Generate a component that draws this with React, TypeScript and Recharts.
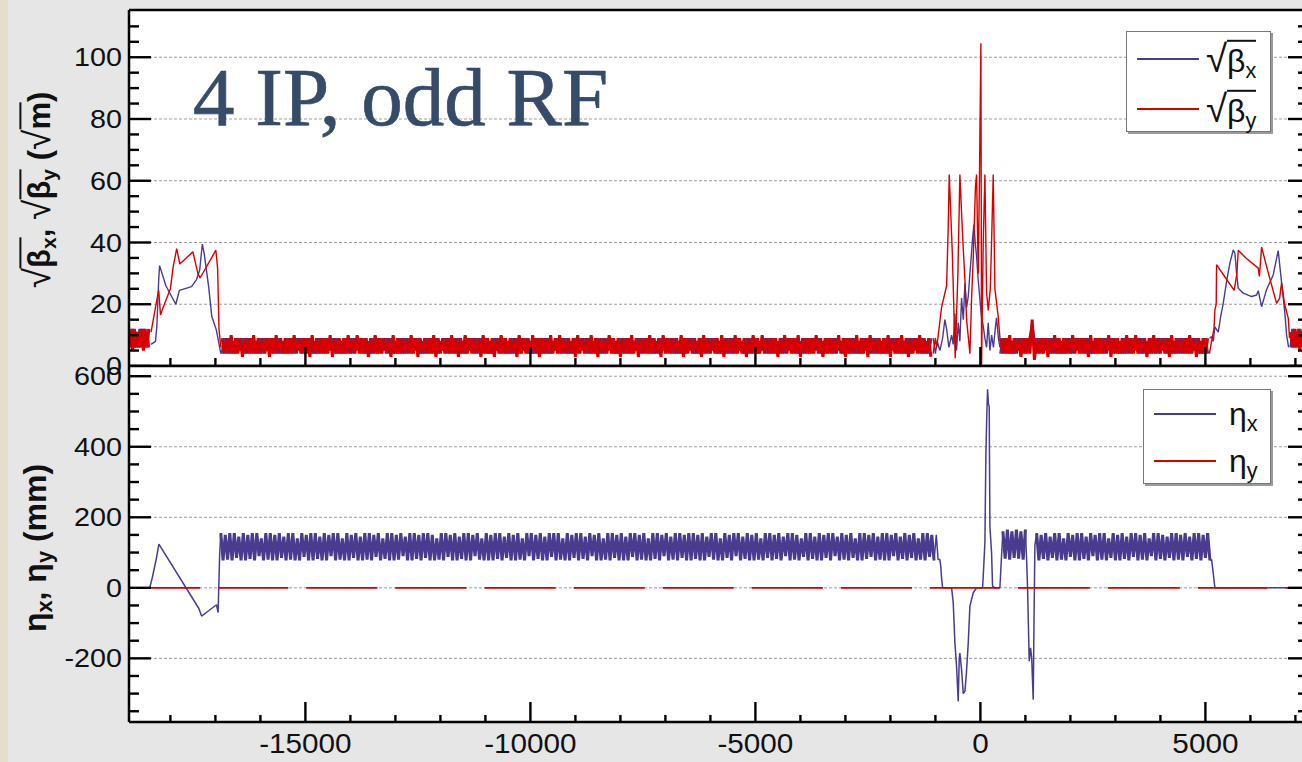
import React from "react";
import { LineChart, Line, XAxis, YAxis, ReferenceLine, CartesianGrid } from "recharts";

// ---- axes ----
const S_DOMAIN: [number, number] = [-18920, 7280];
const BETA_DOMAIN: [number, number] = [0, 115.3];
const ETA_DOMAIN: [number, number] = [-380.5, 629];

const sTicks = [
  -18000, -17000, -16000, -15000, -14000, -13000, -12000, -11000, -10000, -9000, -8000, -7000, -6000,
  -5000, -4000, -3000, -2000, -1000, 0, 1000, 2000, 3000, 4000, 5000, 6000, 7000,
];
const sLabels = [-15000, -10000, -5000, 0, 5000];
const betaTicks = [0, 5, 10, 15, 20, 25, 30, 35, 40, 45, 50, 55, 60, 65, 70, 75, 80, 85, 90, 95, 100, 105, 110];
const betaLabels = [0, 20, 40, 60, 80, 100];
const etaTicks = [-350, -300, -250, -200, -150, -100, -50, 0, 50, 100, 150, 200, 250, 300, 350, 400, 450, 500, 550, 600];
const etaLabels = [-200, 0, 200, 400, 600];

// ---- sqrt(beta_x) ----
const edgeLeftS = [-18920, -18880, -18840, -18800, -18760, -18720, -18680, -18640, -18600, -18560, -18520, -18480];
const bxEdgeLeft = [11, 6, 12, 6, 11, 6, 12, 6, 12, 6, 11, 6];
const byEdgeLeft = [6, 12, 5, 12, 6, 11, 6, 12, 5, 12, 6, 12];

const bxIrLeftS = [-18430, -18330, -18300, -18260, -18240, -18100, -17880, -17800, -17530, -17420, -17350, -17290, -17250, -17150, -17080, -16980, -16930, -16880];
const bxIrLeft = [7, 8, 13, 28, 32.5, 26, 20, 24.5, 25.7, 28, 31, 39.5, 36.5, 25.7, 16, 11.7, 8, 4];

const ARC_STEP = 50;
const bxArcLeftStart = -16850;
const bxArcLeft = [
  4, 9, 4, 9, 4, 8, 4, 9, 5, 9, 4, 9, 4, 9, 4, 8, 4, 9, 4, 9, 5, 9, 4, 9, 4, 9, 4, 8, 4, 9,
  4, 9, 4, 9, 5, 9, 4, 9, 4, 9, 4, 8, 4, 9, 4, 9, 4, 9, 5, 9, 4, 9, 4, 8, 4, 9, 4, 9, 4, 9,
  5, 9, 4, 9, 4, 8, 4, 9, 4, 9, 4, 9, 5, 9, 4, 9, 4, 8, 4, 9, 4, 9, 4, 9, 4, 9, 5, 9, 4, 8,
  4, 9, 4, 9, 4, 9, 4, 8, 5, 9, 4, 9, 4, 9, 4, 9, 4, 8, 4, 9, 5, 9, 4, 9, 4, 9, 4, 9, 4, 8,
  4, 9, 5, 9, 4, 9, 4, 8, 4, 9, 4, 9, 4, 9, 5, 9, 4, 8, 4, 9, 4, 9, 4, 9, 4, 9, 4, 8, 5, 9,
  4, 9, 4, 9, 4, 8, 4, 9, 4, 9, 5, 9, 4, 9, 4, 8, 4, 9, 4, 9, 4, 9, 5, 9, 4, 8, 4, 9, 4, 9,
  4, 9, 4, 8, 5, 9, 4, 9, 4, 9, 4, 9, 4, 8, 4, 9, 5, 9, 4, 9, 4, 9, 4, 8, 4, 9, 4, 9, 5, 9,
  4, 8, 4, 9, 4, 9, 4, 9, 5, 9, 4, 8, 4, 9, 4, 9, 4, 9, 4, 9, 5, 8, 4, 9, 4, 9, 4, 9, 4, 8,
  5, 9, 4, 9, 4, 9, 4, 8, 4, 9, 4, 9, 5, 9, 4, 9, 4, 8, 4, 9, 4, 9, 4, 9, 5, 9, 4, 8, 4, 9,
  4, 9, 4, 9, 5, 8, 4, 9, 4, 9, 4, 9, 4, 8, 4, 9, 5, 9, 4, 9, 4, 9, 4, 8, 4, 9, 4, 9, 5, 9,
  4, 9, 4, 8, 4, 9, 4, 9, 5, 9, 4, 9, 4, 8, 4, 9,
];

const bxIrCenterS = [-1050, -1000, -960, -900, -840, -790, -751, -700, -640, -604, -567, -530, -493, -456, -419, -380, -344, -307, -270, -233, -196, -170, -144, -115, -85, -50, -11, 25, 63, 100, 137, 174, 211, 250, 290, 330, 359, 400, 433];
const bxIrCenter = [9, 4, 8, 5, 9, 15, 12, 6, 10, 7, 17, 5, 14, 8, 22, 15, 26.8, 19, 22.5, 30, 37, 42, 45.7, 40, 35.6, 28, 21.6, 16, 13, 9, 6, 14, 5, 10, 6, 12, 15.6, 9, 6];

const arcRightStart = 450;
const bxArcRight = [
  4, 9, 4, 9, 4, 8, 4, 9, 5, 9, 4, 9, 4, 9, 13, 8, 4, 9, 4, 9, 5, 9, 4, 9, 4, 9, 4, 8, 4, 9,
  4, 9, 4, 9, 5, 9, 4, 9, 4, 9, 4, 8, 4, 9, 4, 9, 4, 9, 5, 9, 4, 9, 4, 8, 4, 9, 4, 9, 4, 9,
  5, 9, 4, 9, 4, 8, 4, 9, 4, 9, 4, 9, 5, 9, 4, 9, 4, 8, 4, 9, 4, 9, 4, 9, 4, 9, 5, 9, 4, 8,
  4, 9, 4,
];

const bxIrRightS = [5090, 5137, 5175, 5211, 5285, 5340, 5396, 5470, 5544, 5619, 5656, 5693, 5730, 5841, 6027, 6138, 6174, 6249, 6360, 6507, 6618, 6693, 6767, 6804, 6850];
const bxIrRight = [9, 9.5, 8, 12.7, 11, 16, 20.3, 27.3, 33.3, 37.6, 36.5, 30, 25.2, 23.6, 22.5, 23, 24.4, 19.2, 24.8, 29.5, 37.4, 27, 17, 10, 6];

const edgeRightS = [6900, 6940, 6980, 7020, 7060, 7100, 7140, 7180, 7220, 7260, 7300];
const bxEdgeRight = [6, 12, 6, 11, 6, 12, 7, 12, 6, 11, 6];
const byEdgeRight = [11, 6, 12, 6, 12, 5, 11, 6, 12, 6, 11];

// ---- sqrt(beta_y) ----
const byIrLeftS = [-18430, -18300, -18260, -18220, -18200, -18000, -17940, -17860, -17790, -17500, -17390, -17340, -16990, -16950, -16920, -16880];
const byIrLeft = [11, 21.5, 24.5, 16.5, 17.5, 25, 32, 38, 33, 37, 30, 28.5, 37.5, 31.5, 12, 6];

const byArcLeft = [
  9, 4, 9, 4, 10, 4, 9, 4, 9, 3, 9, 4, 9, 4, 10, 4, 9, 4, 9, 4, 9, 3, 9, 4, 10, 4, 9, 4, 9, 4,
  9, 4, 10, 4, 9, 4, 9, 4, 9, 3, 10, 4, 9, 4, 9, 4, 9, 4, 10, 3, 9, 4, 9, 4, 9, 4, 10, 4, 9, 4,
  10, 4, 9, 4, 9, 3, 9, 4, 10, 4, 9, 4, 9, 4, 9, 3, 10, 4, 9, 4, 9, 4, 9, 4, 10, 4, 9, 3, 9, 4,
  9, 4, 9, 4, 10, 3, 9, 4, 9, 4, 9, 4, 10, 4, 9, 3, 9, 4, 10, 4, 9, 4, 9, 4, 9, 3, 10, 4, 9, 4,
  9, 3, 9, 4, 10, 4, 9, 4, 9, 4, 9, 3, 10, 4, 9, 4, 9, 4, 10, 4, 9, 3, 9, 4, 9, 4, 10, 4, 9, 4,
  10, 4, 9, 4, 9, 4, 9, 3, 10, 4, 9, 4, 9, 4, 10, 4, 9, 3, 9, 4, 9, 4, 10, 4, 9, 4, 9, 3, 9, 4,
  9, 4, 10, 4, 9, 3, 9, 4, 9, 4, 10, 4, 9, 4, 9, 3, 10, 4, 9, 4, 9, 4, 9, 4, 10, 3, 9, 4, 9, 4,
  9, 4, 9, 3, 10, 4, 9, 4, 9, 4, 9, 4, 10, 3, 9, 4, 9, 4, 10, 4, 9, 4, 9, 3, 9, 4, 10, 4, 9, 4,
  10, 4, 9, 4, 9, 4, 9, 3, 9, 4, 10, 4, 9, 4, 9, 4, 10, 3, 9, 4, 9, 4, 9, 4, 10, 4, 9, 3, 9, 4,
  9, 4, 9, 4, 10, 4, 9, 3, 9, 4, 9, 4, 10, 4, 9, 4, 9, 3, 10, 4, 9, 4, 9, 4, 9, 4, 10, 3, 9, 4,
  9, 4, 10, 4, 9, 3, 9, 4, 9, 4, 10, 4, 9, 4, 9, 3,
];

const byIrCenterS = [-1050, -1000, -970, -863, -751, -715, -693, -660, -625, -600, -560, -500, -456, -420, -381, -344, -307, -233, -196, -159, -110, -85, -48, -20, 11, 26, 63, 100, 137, 174, 220, 248, 285, 322, 396, 440];
const byIrCenter = [4, 9, 6, 19, 26, 45, 62, 50, 37, 24, 2.5, 30, 62, 50, 38, 28, 15, 4, 22, 35, 58, 62, 30, 62, 104.5, 0.5, 40, 62, 24, 18, 25, 40, 62, 25, 16, 8];

const byArcRight = [
  9, 4, 9, 4, 10, 4, 9, 4, 9, 3, 9, 4, 9, 4, 15, 2, 9, 4, 9, 4, 9, 3, 9, 4, 10, 4, 9, 4, 9, 4,
  9, 4, 10, 4, 9, 4, 9, 4, 9, 3, 10, 4, 9, 4, 9, 4, 9, 4, 10, 3, 9, 4, 9, 4, 9, 4, 10, 4, 9, 4,
  10, 4, 9, 4, 9, 3, 9, 4, 10, 4, 9, 4, 9, 4, 9, 3, 10, 4, 9, 4, 9, 4, 9, 4, 10, 4, 9, 3, 9, 4,
  9, 4, 9,
];

const byIrRightS = [5090, 5137, 5190, 5211, 5240, 5248, 5450, 5640, 5700, 5730, 5900, 6174, 6200, 6249, 6400, 6582, 6650, 6693, 6760, 6841, 6870];
const byIrRight = [4, 8, 12, 18.2, 20, 32.8, 28.5, 24.5, 30, 37.5, 35, 31.7, 29, 38.5, 30, 20.3, 22, 27, 20, 15.5, 9];

// ---- eta_x (mm) ----
const exIrLeftS = [-18920, -18460, -18400, -18310, -18256, -17370, -17307, -17150, -16975, -16940, -16905, -16880];
const exIrLeft = [0, 0, 30, 84, 124, -58, -80, -65, -48, -70, 95, 155];

const exArcLeftStart = -16880;
const exArcLeft = [
  155, 78, 150, 80, 155, 78, 155, 85, 145, 78, 155, 78, 150, 82, 155, 78, 155, 90, 140, 78, 155, 80, 155, 78, 150, 78, 155, 85, 145, 78,
  155, 80, 155, 78, 140, 78, 155, 88, 150, 78, 155, 78, 155, 82, 145, 78, 155, 78, 150, 90, 155, 78, 155, 80, 140, 78, 155, 78, 150, 85,
  155, 78, 145, 78, 155, 80, 155, 78, 150, 88, 155, 78, 140, 82, 155, 78, 155, 78, 150, 80, 155, 90, 145, 78, 155, 78, 155, 82, 150, 78,
  155, 85, 155, 78, 150, 78, 140, 80, 155, 78, 155, 88, 150, 78, 155, 78, 145, 82, 155, 78, 155, 78, 150, 90, 155, 80, 140, 78, 155, 78,
  150, 78, 155, 82, 155, 78, 145, 85, 155, 78, 150, 78, 155, 80, 140, 78, 155, 90, 155, 78, 150, 82, 155, 78, 145, 78, 155, 88, 155, 78,
  155, 80, 140, 78, 155, 78, 150, 85, 155, 78, 155, 82, 145, 78, 155, 90, 150, 78, 155, 78, 140, 80, 155, 78, 155, 85, 150, 78, 155, 78,
  145, 78, 155, 88, 155, 78, 150, 80, 155, 78, 140, 78, 155, 82, 155, 78, 150, 90, 155, 78, 145, 80, 155, 78, 155, 85, 150, 78, 155, 78,
  155, 82, 150, 78, 155, 78, 145, 88, 155, 80, 155, 78, 140, 78, 155, 85, 150, 78, 155, 90, 155, 78, 145, 82, 155, 78, 150, 78, 155, 80,
  140, 78, 155, 85, 155, 78, 150, 82, 155, 78, 145, 90, 155, 78, 155, 80, 150, 78, 140, 88, 155, 78, 155, 82, 145, 78, 155, 78, 150, 85,
  155, 78, 155, 90, 145, 78, 155, 80, 150, 78, 155, 85, 140, 78, 155, 78, 155, 82, 150, 88, 155, 78, 145, 80, 155, 78, 155, 78, 150, 90,
  155, 78, 145, 82, 155, 78, 150, 85, 155, 78, 140, 80, 155, 78, 155, 88, 150, 78,
];

const exIrCenterS = [-1030, -980, -940, -900, -880, -863, -840, -640, -604, -567, -530, -493, -470, -456, -419, -380, -344, -310, -270, -233, -159, -85, 48, 63, 100, 122, 140, 159, 180, 196, 211, 248, 270, 320, 433, 470, 500];
const exIrCenter = [78, 150, 80, 80, 60, 28, 0, 0, -42, -156, -222, -322, -200, -185, -232, -300, -293, -240, -156, -52, -14, 0, 0, 33, 128, 378, 480, 563, 520, 515, 174, 100, 5, 0, 0, 90, 160];

const exBand2Start = 500;
const exBand2 = [160, 83, 165, 80, 160, 85, 165, 83, 160, 80, 165];

const exIrMidS = [1000, 1026, 1048, 1085, 1115, 1140, 1174, 1190, 1211, 1250];
const exIrMid = [165, 83, 0, -208, -170, -200, -317, -110, 120, 155];

const exBand3Start = 1250;
const exBand3 = [
  155, 78, 150, 82, 155, 78, 145, 85, 155, 78, 155, 80, 140, 78, 155, 88, 150, 78, 155, 78, 155, 82, 145, 78, 155, 90, 150, 78, 155, 80,
  155, 78, 140, 85, 155, 78, 150, 78, 155, 82, 145, 78, 155, 88, 155, 78, 150, 80, 155, 78, 140, 90, 155, 78, 155, 82, 150, 78, 145, 85,
  155, 78, 155, 80, 150, 78, 155, 88, 145, 78, 155, 82, 155, 78, 150, 85, 155, 78,
];

const exTailS = [5100, 5137, 5174, 5211, 7280];
const exTail = [78, 80, 42, 0, 0];

// ---- eta_y: zero, with the few short gaps seen on the plot ----
const eyGapStarts = [-17340, -15380, -13400, -11420, -9440, -7460, -5480, -3500, -1520, 433, 2430, 4430, 6380];
const EY_GAP = 400;

// ---- build series ----
type Pt = { s: number; v: number | null };
const pts = (s: number[], v: number[]): Pt[] => s.map((x, i) => ({ s: x, v: v[i] }));
const onGrid = (start: number, v: number[]): Pt[] => v.map((y, i) => ({ s: start + i * ARC_STEP, v: y }));
const cut = (s: number): Pt => ({ s, v: null });

// dense lattice cells (drawn thicker, they read as a solid band) and insertion regions
const bxBand = [
  ...pts(edgeLeftS, bxEdgeLeft), cut(-18470),
  ...onGrid(bxArcLeftStart, bxArcLeft), cut(-1090),
  ...onGrid(arcRightStart, bxArcRight), cut(5060),
  ...pts(edgeRightS, bxEdgeRight),
];
const bxIr = [
  ...pts(bxIrLeftS, bxIrLeft), cut(-16870),
  ...pts(bxIrCenterS, bxIrCenter), cut(440),
  ...pts(bxIrRightS, bxIrRight),
];
const byBand = [
  ...pts(edgeLeftS, byEdgeLeft), cut(-18470),
  ...onGrid(bxArcLeftStart, byArcLeft), cut(-1090),
  ...onGrid(arcRightStart, byArcRight), cut(5060),
  ...pts(edgeRightS, byEdgeRight),
];
const byIr = [
  ...pts(byIrLeftS, byIrLeft), cut(-16870),
  ...pts(byIrCenterS, byIrCenter), cut(445),
  ...pts(byIrRightS, byIrRight),
];
const exBand = [
  ...onGrid(exArcLeftStart, exArcLeft), cut(-1020),
  ...onGrid(exBand2Start, exBand2), cut(1010),
  ...onGrid(exBand3Start, exBand3),
];
const exIr = [
  ...pts(exIrLeftS, exIrLeft), cut(-16870),
  ...pts(exIrCenterS, exIrCenter), cut(505),
  ...pts(exIrMidS, exIrMid), cut(1255),
  ...pts(exTailS, exTail),
];
const eyData: Pt[] = [{ s: S_DOMAIN[0], v: 0 }];
eyGapStarts.forEach((g) => {
  eyData.push({ s: g, v: 0 }, cut(g + EY_GAP / 2), { s: g + EY_GAP, v: 0 });
});
eyData.push({ s: S_DOMAIN[1], v: 0 });

// ---- styling ----
const BLUE = "#4a3b8f";
const RED = "#d60000";
const GRID = "#9e9e9e";
const FONT = "'Liberation Sans', Arial, Helvetica, sans-serif";
const BAND_W = 3;

type Side = "left" | "right" | "top" | "bottom";

function makeTick(side: Side, majors: number[], majorLen: number, minorLen: number, labels = false) {
  return (p: any) => {
    const { x, y } = p;
    const v = p.payload.value;
    const big = majors.includes(v);
    const len = big ? majorLen : minorLen;
    let l = { x1: x, y1: y, x2: x, y2: y };
    if (side === "left") l = { ...l, x2: x + len };
    if (side === "right") l = { ...l, x2: x - len };
    if (side === "top") l = { ...l, y2: y + len };
    if (side === "bottom") l = { ...l, y2: y - len };
    return (
      <g>
        <line {...l} stroke="#000" strokeWidth={2.4} />
        {labels && big && side === "left" && (
          <text
            transform={`translate(${x - 7},${y}) scale(1.15,1)`}
            textAnchor="end"
            dy="0.36em"
            fontSize={25}
            fontFamily={FONT}
            fill="#111"
          >
            {v}
          </text>
        )}
        {labels && big && side === "bottom" && (
          <text
            transform={`translate(${x},${y + 31}) scale(1.1,1)`}
            textAnchor="middle"
            fontSize={27}
            fontFamily={FONT}
            fill="#111"
          >
            {v}
          </text>
        )}
      </g>
    );
  };
}

const frame = { stroke: "#000", strokeWidth: 2.5 };

const W = 1340;
const H = 762;

function series(data: Pt[], color: string, width: number, name: string) {
  return (
    <Line
      xAxisId="b"
      yAxisId="l"
      data={data}
      dataKey="v"
      name={name}
      type="linear"
      stroke={color}
      strokeWidth={width}
      strokeLinejoin="bevel"
      dot={false}
      connectNulls={false}
      isAnimationActive={false}
    />
  );
}

function BetaPanel() {
  return (
    <LineChart width={W} height={H} margin={{ top: 0, right: 22, left: 69, bottom: 386 }}>
      <CartesianGrid horizontal={false} vertical={false} fill="#fff" xAxisId="b" yAxisId="l" />
      <XAxis
        xAxisId="b"
        dataKey="s"
        type="number"
        domain={S_DOMAIN}
        allowDataOverflow
        ticks={sTicks}
        interval={0}
        height={10}
        tickSize={0}
        tickMargin={0}
        axisLine={frame}
        tickLine={false}
        tick={makeTick("bottom", sLabels, 19, 8)}
      />
      <XAxis
        xAxisId="t"
        orientation="top"
        type="number"
        domain={S_DOMAIN}
        allowDataOverflow
        ticks={sTicks}
        interval={0}
        height={10}
        tickSize={0}
        tickMargin={0}
        axisLine={frame}
        tickLine={false}
        tick={makeTick("top", sLabels, 22, 10)}
      />
      <YAxis
        yAxisId="l"
        type="number"
        domain={BETA_DOMAIN}
        allowDataOverflow
        ticks={betaTicks}
        interval={0}
        width={60}
        tickSize={0}
        tickMargin={0}
        axisLine={frame}
        tickLine={false}
        tick={makeTick("left", betaLabels, 22, 10, true)}
      />
      <YAxis
        yAxisId="r"
        orientation="right"
        type="number"
        domain={BETA_DOMAIN}
        allowDataOverflow
        ticks={betaTicks}
        interval={0}
        width={10}
        tickSize={0}
        tickMargin={0}
        axisLine={frame}
        tickLine={false}
        tick={makeTick("right", betaLabels, 20, 10)}
      />
      {betaLabels.filter((v) => v > 0).map((v) => (
        <ReferenceLine key={v} y={v} xAxisId="b" yAxisId="l" stroke={GRID} strokeDasharray="3 2" strokeWidth={1} />
      ))}
      {series(bxBand, BLUE, BAND_W, "√βx")}
      {series(bxIr, BLUE, 1.4, "√βx")}
      {series(byBand, RED, BAND_W, "√βy")}
      {series(byIr, RED, 1.4, "√βy")}
    </LineChart>
  );
}

function EtaPanel() {
  return (
    <LineChart width={W} height={H} margin={{ top: 356, right: 22, left: 69, bottom: 10 }}>
      <CartesianGrid horizontal={false} vertical={false} fill="#fff" xAxisId="b" yAxisId="l" />
      <XAxis
        xAxisId="b"
        dataKey="s"
        type="number"
        domain={S_DOMAIN}
        allowDataOverflow
        ticks={sTicks}
        interval={0}
        height={30}
        tickSize={0}
        tickMargin={0}
        axisLine={frame}
        tickLine={false}
        tick={makeTick("bottom", sLabels, 20, 7, true)}
      />
      <XAxis
        xAxisId="t"
        orientation="top"
        type="number"
        domain={S_DOMAIN}
        allowDataOverflow
        ticks={sTicks}
        interval={0}
        height={10}
        tickSize={0}
        tickMargin={0}
        axisLine={frame}
        tickLine={false}
        tick={makeTick("top", sLabels, 21, 7)}
      />
      <YAxis
        yAxisId="l"
        type="number"
        domain={ETA_DOMAIN}
        allowDataOverflow
        ticks={etaTicks}
        interval={0}
        width={60}
        tickSize={0}
        tickMargin={0}
        axisLine={frame}
        tickLine={false}
        tick={makeTick("left", etaLabels, 22, 10, true)}
      />
      <YAxis
        yAxisId="r"
        orientation="right"
        type="number"
        domain={ETA_DOMAIN}
        allowDataOverflow
        ticks={etaTicks}
        interval={0}
        width={10}
        tickSize={0}
        tickMargin={0}
        axisLine={frame}
        tickLine={false}
        tick={makeTick("right", etaLabels, 20, 10)}
      />
      {etaLabels.map((v) => (
        <ReferenceLine key={v} y={v} xAxisId="b" yAxisId="l" stroke={GRID} strokeDasharray="3 2" strokeWidth={1} />
      ))}
      {series(exBand, BLUE, BAND_W, "ηx")}
      {series(exIr, BLUE, 1.5, "ηx")}
      {series(eyData, RED, 1.8, "ηy")}
    </LineChart>
  );
}

const Root = ({ children }: { children: React.ReactNode }) => (
  <span style={{ whiteSpace: "nowrap" }}>
    <span style={{ fontSize: "1.2em", fontWeight: "normal" }}>√</span>
    <span style={{ display: "inline-block", borderTop: "2px solid currentColor", lineHeight: 1, paddingTop: 3 }}>
      {children}
    </span>
  </span>
);
const Sub = ({ children }: { children: React.ReactNode }) => (
  <sub style={{ fontSize: "0.68em", verticalAlign: "-0.28em", lineHeight: 0 }}>{children}</sub>
);

function LegendRow({ color, top, lineLeft, lineWidth, labelLeft, children }: any) {
  return (
    <>
      <div style={{ position: "absolute", left: lineLeft, top: top - 0.75, width: lineWidth, height: 1.5, background: color }} />
      <div
        style={{
          position: "absolute",
          left: labelLeft,
          top,
          transform: "translateY(-50%)",
          fontSize: 32,
          lineHeight: 1,
          whiteSpace: "nowrap",
          color: "#111",
        }}
      >
        {children}
      </div>
    </>
  );
}

export default function App() {
  return (
    <div
      style={{
        position: "fixed",
        left: 0,
        top: 0,
        width: 1302,
        height: 762,
        overflow: "hidden",
        background: "#e6e6e6",
        fontFamily: FONT,
      }}
    >
      <div style={{ position: "absolute", left: 0, top: 0, width: 8, height: 762, background: "#e6ddcf" }} />
      <div style={{ position: "absolute", left: 0, top: 0 }}>
        <BetaPanel />
      </div>
      <div style={{ position: "absolute", left: 0, top: 0 }}>
        <EtaPanel />
      </div>

      <svg width={1302} height={762} style={{ position: "absolute", left: 0, top: 0, pointerEvents: "none" }}>
        <text
          x={193}
          y={125}
          fontSize={83}
          fontFamily="'Liberation Serif', 'Times New Roman', serif"
          fill="#364b68"
          stroke="#364b68"
          strokeWidth={0.7}
        >
          4 IP, odd RF
        </text>
      </svg>

      {/* axis titles */}
      <div
        style={{
          position: "absolute",
          left: 38,
          top: 190,
          transform: "translate(-50%,-50%) rotate(-90deg)",
          fontSize: 31,
          fontWeight: "bold",
          whiteSpace: "nowrap",
          lineHeight: 1,
          color: "#111",
        }}
      >
        <Root>
          β<Sub>x</Sub>
        </Root>
        , <Root>
          β<Sub>y</Sub>
        </Root>{" "}
        (<Root>m</Root>)
      </div>
      <div
        style={{
          position: "absolute",
          left: 35,
          top: 548,
          transform: "translate(-50%,-50%) rotate(-90deg)",
          fontSize: 32,
          fontWeight: "bold",
          whiteSpace: "nowrap",
          lineHeight: 1,
          color: "#111",
        }}
      >
        η<Sub>x</Sub>, η<Sub>y</Sub> (mm)
      </div>

      {/* legends */}
      <div
        style={{
          position: "absolute",
          left: 1126,
          top: 31,
          width: 143,
          height: 99,
          background: "#fff",
          border: "1px solid #777",
          boxShadow: "2px 2px 0 #9a9a9a",
        }}
      >
        <LegendRow color={BLUE} top={27} lineLeft={10} lineWidth={62} labelLeft={79}>
          <Root>
            β<Sub>x</Sub>
          </Root>
        </LegendRow>
        <LegendRow color={RED} top={77} lineLeft={10} lineWidth={62} labelLeft={79}>
          <Root>
            β<Sub>y</Sub>
          </Root>
        </LegendRow>
      </div>
      <div
        style={{
          position: "absolute",
          left: 1143,
          top: 389,
          width: 126,
          height: 93,
          background: "#fff",
          border: "1px solid #777",
          boxShadow: "2px 2px 0 #9a9a9a",
        }}
      >
        <LegendRow color={BLUE} top={24} lineLeft={10} lineWidth={62} labelLeft={85}>
          η<Sub>x</Sub>
        </LegendRow>
        <LegendRow color={RED} top={71} lineLeft={10} lineWidth={62} labelLeft={85}>
          η<Sub>y</Sub>
        </LegendRow>
      </div>
    </div>
  );
}
